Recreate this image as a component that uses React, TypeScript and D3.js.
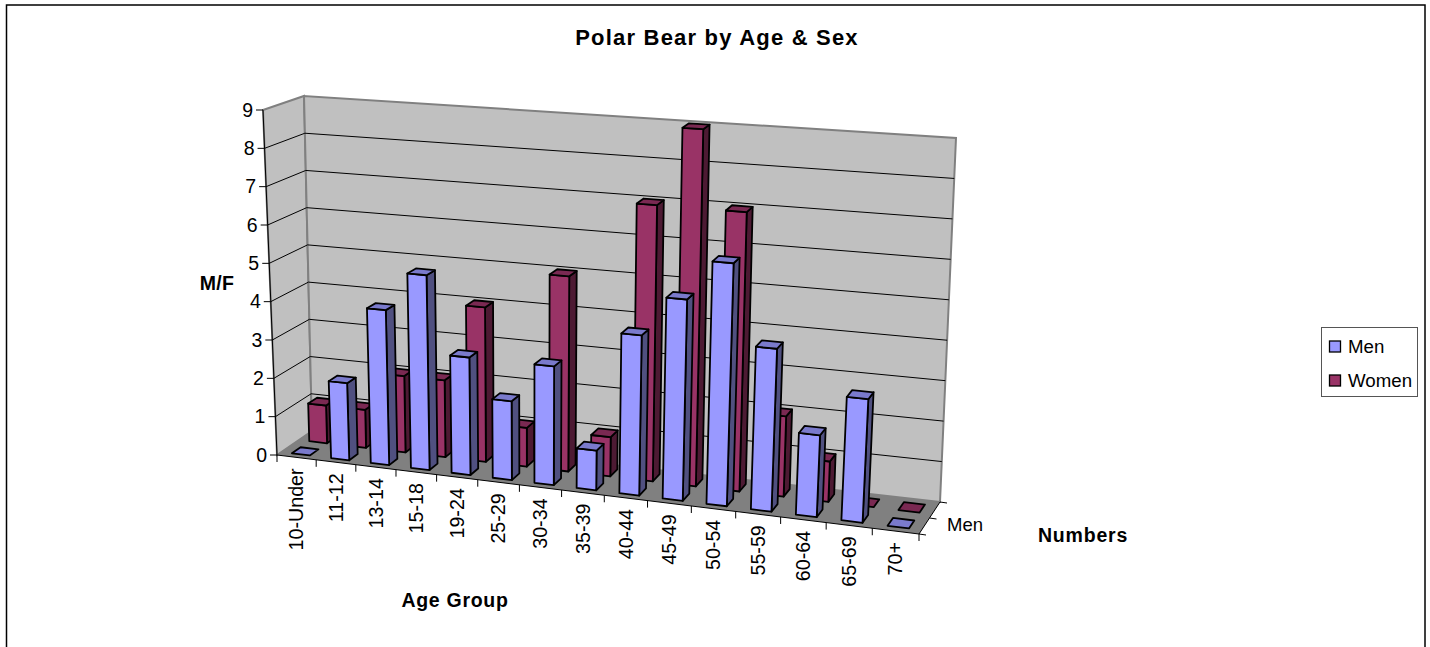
import { useEffect, useRef } from "react";
import * as d3 from "d3";

const ageGroups = ["10-Under", "11-12", "13-14", "15-18", "19-24", "25-29", "30-34", "35-39", "40-44", "45-49", "50-54", "55-59", "60-64", "65-69", "70+"];
const men = [0, 2, 4, 5, 3, 2, 3, 1, 4, 5, 6, 4, 2, 3, 0];
const women = [1, 1, 2, 2, 4, 1, 5, 1, 7, 9, 7, 2, 1, 0, 0];
const seriesNames = ["Men", "Women"];
const valueTicks = [0, 1, 2, 3, 4, 5, 6, 7, 8, 9];

const WIDTH = 1430;
const HEIGHT = 647;
const FONT = "Liberation Sans, Arial, sans-serif";

const COLORS: Record<string, { front: string; top: string; side: string }> = {
  Men: { front: "#9999FF", top: "#7A7ACC", side: "#505080" },
  Women: { front: "#993366", top: "#7A2952", side: "#4D1A33" },
};

type Pt = [number, number];

// corners of a plane as seen on screen: front-left, front-right, back-right, back-left
const FLOOR: Pt[] = [[277, 455], [919, 534], [940, 502], [312, 431]];
const CEILING: Pt[] = [[263, 110], [940, 159], [956, 138], [304, 96]];
// how much the categories spread out towards the right
const PERSPECTIVE = -0.09;

function planeMap(q: Pt[]) {
  const [fl, fr, br, bl] = q;
  const front = d3.interpolateArray(fl, fr);
  const rear = d3.interpolateArray(bl, br);
  return (u: number, d: number): Pt => {
    const w = (u * (1 + PERSPECTIVE)) / (1 + PERSPECTIVE * u);
    const a = front(w);
    const b = rear(w);
    return [a[0] + (b[0] - a[0]) * d, a[1] + (b[1] - a[1]) * d];
  };
}

export default function App() {
  const ref = useRef<SVGSVGElement>(null);

  useEffect(() => {
    if (!ref.current) return;
    const svg = d3.select(ref.current);
    svg.selectAll("*").remove();

    const xBand = d3.scaleBand().domain(ageGroups).range([0, 1]);
    const depthBand = d3.scaleBand().domain(seriesNames).range([0, 1]);
    const y = d3.scaleLinear().domain([0, 9]).range([0, 1]);

    const floor = planeMap(FLOOR);
    const ceiling = planeMap(CEILING);
    const project = (u: number, d: number, v: number): Pt => {
      const a = floor(u, d);
      const b = ceiling(u, d);
      const t = y(v);
      return [a[0] + (b[0] - a[0]) * t, a[1] + (b[1] - a[1]) * t];
    };
    const poly = d3.line();

    // frame, the bottom edge is cut off by the picture
    svg.append("rect").attr("x", 6.5).attr("y", 5).attr("width", 1418.5).attr("height", 660)
      .attr("fill", "#fff").attr("stroke", "#000").attr("stroke-width", 1.5);

    // walls and floor
    const left = [project(0, 0, 0), project(0, 1, 0), project(0, 1, 9), project(0, 0, 9)];
    const back = [project(0, 1, 0), project(1, 1, 0), project(1, 1, 9), project(0, 1, 9)];
    const ground = [project(0, 0, 0), project(1, 0, 0), project(1, 1, 0), project(0, 1, 0)];
    svg.append("path").attr("d", poly(left) + "Z").attr("fill", "#C0C0C0").attr("stroke", "#808080").attr("stroke-width", 2);
    svg.append("path").attr("d", poly(back) + "Z").attr("fill", "#C0C0C0").attr("stroke", "#808080").attr("stroke-width", 2);
    svg.append("path").attr("d", poly(ground) + "Z").attr("fill", "#808080");

    // gridlines
    svg.append("g").attr("fill", "none").attr("stroke", "#000").attr("stroke-width", 1)
      .selectAll("path")
      .data(valueTicks.slice(1, -1))
      .join("path")
      .attr("d", (v) => poly([project(0, 0, v), project(0, 1, v), project(1, 1, v)]));

    // axis lines and ticks
    const axes = svg.append("g").attr("fill", "none").attr("stroke", "#000").attr("stroke-width", 1);
    axes.append("path").attr("d", poly([project(0, 0, 0), project(0, 0, 9)]));
    axes.append("path").attr("d", poly([project(0, 0, 0), project(1, 0, 0), project(1, 1, 0)]));
    axes.selectAll(".vt").data(valueTicks).join("path").attr("class", "vt").attr("d", (v) => {
      const p = project(0, 0, v);
      return poly([p, [p[0] - 7, p[1]]]);
    });
    axes.selectAll(".xt").data(d3.range(ageGroups.length + 1)).join("path").attr("class", "xt").attr("d", (i) => {
      const p = project(i / ageGroups.length, 0, 0);
      return poly([p, [p[0], p[1] + 7]]);
    });
    axes.selectAll(".dt").data([0, 0.5, 1]).join("path").attr("class", "dt").attr("d", (d) => {
      const p = project(1, d, 0);
      return poly([p, [p[0] + 7, p[1] + 1]]);
    });

    // bars, back row first
    const barPad = 0.27;
    const depthPad = 0.25;
    const drawRow = (name: string, values: number[]) => {
      const c = COLORS[name];
      const band = xBand.bandwidth();
      const dBand = depthBand.bandwidth();
      const d0 = (depthBand(name) ?? 0) + dBand * depthPad;
      const d1 = d0 + dBand * (1 - 2 * depthPad);
      const g = svg.append("g").attr("stroke", "#000").attr("stroke-width", 1.8).attr("stroke-linejoin", "round");
      ageGroups.forEach((age, i) => {
        const v = values[i];
        const u0 = (xBand(age) ?? 0) + band * barPad;
        const u1 = u0 + band * (1 - 2 * barPad);
        if (v > 0) {
          g.append("path").attr("fill", c.side)
            .attr("d", poly([project(u1, d0, 0), project(u1, d1, 0), project(u1, d1, v), project(u1, d0, v)]) + "Z");
          g.append("path").attr("fill", c.front)
            .attr("d", poly([project(u0, d0, 0), project(u1, d0, 0), project(u1, d0, v), project(u0, d0, v)]) + "Z");
        }
        g.append("path").attr("fill", c.top)
          .attr("d", poly([project(u0, d0, v), project(u1, d0, v), project(u1, d1, v), project(u0, d1, v)]) + "Z");
      });
    };
    drawRow("Women", women);
    drawRow("Men", men);

    const text = (x: number, yy: number, s: string, size: number, bold = false, anchor = "middle") =>
      svg.append("text").attr("x", x).attr("y", yy).attr("font-family", FONT).attr("font-size", size)
        .attr("font-weight", bold ? "bold" : "normal").attr("text-anchor", anchor).attr("fill", "#000").text(s);

    text(717, 45, "Polar Bear by Age & Sex", 22, true).attr("letter-spacing", 1.2);
    text(217, 290, "M/F", 19.5, true).attr("letter-spacing", 0.3);
    text(455, 607, "Age Group", 19.5, true).attr("letter-spacing", 0.7);
    text(1083, 542, "Numbers", 19.5, true).attr("letter-spacing", 0.8);
    text(965, 531, "Men", 18.5);

    valueTicks.forEach((v) => {
      const p = project(0, 0, v);
      text(p[0] - 10, p[1] + 6.5, String(v), 19.5, false, "end");
    });

    ageGroups.forEach((age) => {
      const u = (xBand(age) ?? 0) + xBand.bandwidth() / 2;
      const p = project(u, 0, 0);
      text(0, 0, age, 19.7, false, "end")
        .attr("dy", "0.35em")
        .attr("transform", `translate(${p[0]},${p[1] + 11}) rotate(-90)`);
    });

    // legend
    svg.append("rect").attr("x", 1321.5).attr("y", 327.5).attr("width", 96).attr("height", 69)
      .attr("fill", "#fff").attr("stroke", "#555").attr("stroke-width", 1);
    seriesNames.forEach((name, i) => {
      const ly = 346.5 + i * 34;
      svg.append("rect").attr("x", 1329.5).attr("y", ly - 5.5).attr("width", 11).attr("height", 11)
        .attr("fill", COLORS[name].front).attr("stroke", "#000").attr("stroke-width", 1.3);
      text(1348, ly + 6, name, 18.7, false, "start");
    });
  }, []);

  return <svg ref={ref} width={WIDTH} height={HEIGHT} style={{ position: "absolute", left: 0, top: 0 }} />;
}
